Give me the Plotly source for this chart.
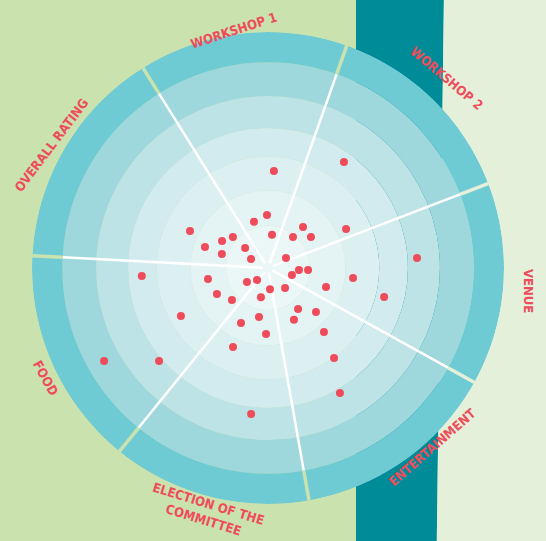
import plotly.graph_objects as go

# Categories (sector labels) and the angles of the dividing lines (degrees)
categories = [
    "WORKSHOP 1",
    "WORKSHOP 2",
    "VENUE",
    "ENTERTAINMENT",
    "ELECTION OF THE<br>COMMITTEE",
    "FOOD",
    "OVERALL RATING",
]
sector_edges = [122, 70.5, 21, -29, -80, 231, 177]

# Outer edge of each concentric ring, inner -> outer (rating scale)
ring_edges = [1.25, 2.3, 3.3, 4.15, 5.1, 6.1, 7.0]

# Responses: distance from centre (rating scale) and angle (degrees)
resp_r = [
    2.88, 3.87, 2.56, 1.57, 1.43, 1.58, 1.39, 1.97, 1.43, 0.90,
    0.57, 0.99, 1.18, 1.60, 1.57, 2.59, 0.61, 0.92, 1.19, 0.74,
    1.81, 0.75, 0.48, 1.70, 1.43, 0.63, 0.78, 0.89, 1.81, 2.54,
    3.55, 2.95, 1.82, 1.48, 1.51, 1.93, 1.72, 1.96, 2.52, 2.56,
    3.31, 4.25, 4.28, 4.43, 3.75, 5.59, 4.36,
]
resp_theta = [
    86.5, 54.4, 154.6, 91.1, 106.9, 149.6, 138.5, 161.6, 163.1, 139.0,
    152.1, 83.1, 51.1, 49.5, 35.8, 26.6, 29.1, -3.7, -2.9, -16.3,
    190.4, 213.7, 227.5, 207.0, 221.6, 275.4, 310.4, 256.4, 341.9, 353.3,
    346.0, 208.9, 243.9, 259.6, 306.2, 317.5, 296.6, 268.3, 311.2, 246.1,
    306.3, 220.5, 299.9, 3.8, 183.6, 209.6, 263.4,
]

W, H = 546, 541
GREEN = "#C9E2AE"
PALE = "#E4F0D9"
TEAL = "#008B99"
RED = "#EF4C5B"
ring_colors = ["#EBF6F7", "#E4F3F4", "#DCEFF1", "#D1EBEE", "#BDE3E7", "#9ED8DD", "#6ECBD3"]
gap_colors = [GREEN, GREEN, PALE, PALE, GREEN, GREEN, GREEN]

fig = go.Figure()

# Rings
bases = [0] + ring_edges[:-1]
fig.add_trace(
    go.Barpolar(
        r=[e - b for e, b in zip(ring_edges, bases)],
        base=bases,
        theta=[0] * len(ring_edges),
        width=[360] * len(ring_edges),
        marker=dict(color=ring_colors, line=dict(width=0)),
        hoverinfo="skip",
        showlegend=False,
    )
)

# Sector dividers (white inside, background-coloured gap through the outer band)
outer = ring_edges[-1]
band = ring_edges[-2]
for a, gc in zip(sector_edges, gap_colors):
    fig.add_trace(
        go.Scatterpolar(
            r=[0.15, band], theta=[a, a], mode="lines",
            line=dict(color="white", width=2.5),
            hoverinfo="skip", showlegend=False,
        )
    )
    fig.add_trace(
        go.Scatterpolar(
            r=[band, outer + 0.05], theta=[a, a], mode="lines",
            line=dict(color=gc, width=3.5),
            hoverinfo="skip", showlegend=False,
        )
    )

# Responses
fig.add_trace(
    go.Scatterpolar(
        r=resp_r, theta=resp_theta, mode="markers",
        marker=dict(color=RED, size=8, line=dict(width=0)),
        showlegend=False,
    )
)

# Label placement (pixel centre and rotation)
label_pos = [(234, 31), (447, 78), (529, 291), (432, 447), (206, 512), (46, 378), (51, 145)]
label_angle = [-18, 40, 90, -41, 17, 61, -53]
annotations = []
for txt, (px, py), ang in zip(categories, label_pos, label_angle):
    annotations.append(
        dict(
            text="<b>" + txt + "</b>",
            x=px / W, y=1 - py / H, xref="paper", yref="paper",
            xanchor="center", yanchor="middle",
            textangle=ang, showarrow=False,
            font=dict(family="DejaVu Sans Condensed, Liberation Sans Narrow, sans-serif",
                      size=13, color=RED),
            align="center",
        )
    )

# Background stripes
shapes = [
    dict(type="path", xref="paper", yref="paper",
         path="M 0.652 1 L 0.813 1 L 0.800 0 L 0.652 0 Z",
         fillcolor=TEAL, line=dict(width=0), layer="below"),
    dict(type="path", xref="paper", yref="paper",
         path="M 0.813 1 L 1 1 L 1 0 L 0.800 0 Z",
         fillcolor=PALE, line=dict(width=0), layer="below"),
]

cx, cy, rad = 268, 268, 236
fig.update_layout(
    width=W, height=H,
    margin=dict(l=0, r=0, t=0, b=0),
    paper_bgcolor=GREEN,
    plot_bgcolor=GREEN,
    shapes=shapes,
    annotations=annotations,
    polar=dict(
        domain=dict(x=[(cx - rad) / W, (cx + rad) / W],
                    y=[(H - cy - rad) / H, (H - cy + rad) / H]),
        bgcolor="rgba(0,0,0,0)",
        radialaxis=dict(range=[0, outer], visible=False, showgrid=False),
        angularaxis=dict(visible=False, showgrid=False, rotation=0,
                         direction="counterclockwise"),
        bargap=0,
    ),
)

# page body has a default margin; drop it so the figure fills the window
fig.write_html(
    "out.html",
    config={"displayModeBar": False},
    post_script="document.body.style.margin='0';document.body.style.overflow='hidden';",
)
